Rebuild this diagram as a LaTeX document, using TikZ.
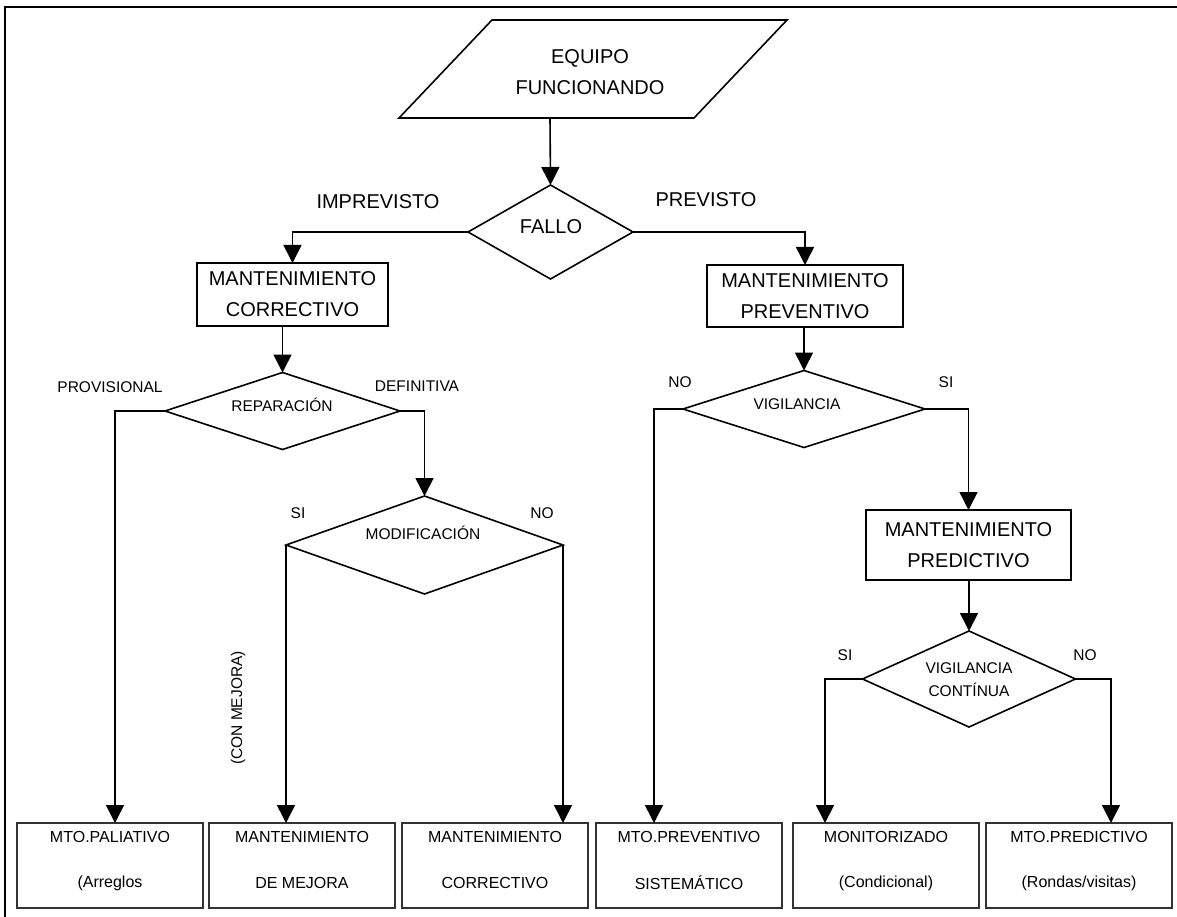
\documentclass[tikz,border=0pt]{standalone}
\usepackage{fontspec}
\setmainfont{Liberation Sans}
\usetikzlibrary{arrows.meta,shapes.geometric}

\begin{document}
\begin{tikzpicture}[x=1pt,y=-1pt,
  conn/.style={line width=1.6pt},
  arr/.style={line width=1.6pt,-{Triangle[width=18pt,length=18pt]}},
  big/.style={font=\fontsize{20}{31}\selectfont, align=center, inner sep=0},
  mid/.style={font=\fontsize{15.5}{23}\selectfont, align=center, inner sep=0},
  dec/.style={diamond, draw, line width=1.6pt, inner sep=0, outer sep=0, aspect=1},
  stepbox/.style={draw, line width=1.6pt, rectangle, inner sep=0, outer sep=0,
    align=center, font=\fontsize{20}{31}\selectfont},
  leaf/.style={draw=black!80, line width=1.8pt, rectangle, inner sep=0, outer sep=0,
    minimum width=186, minimum height=85},
  leaftext/.style={font=\fontsize{16}{18}\selectfont, inner sep=0}
]
\useasboundingbox (0,0) rectangle (1177,917);

% outer frame (top and left edges)
\draw[line width=2.4pt] (5,917) -- (5,7) -- (1177,7);

% start: parallelogram
\draw[conn] (492,20) -- (787,20) -- (694,118) -- (399,118) -- cycle;
\node[big] (equipo) at (590,72.5) {EQUIPO\\FUNCIONANDO};
\coordinate (eqbot) at (550,118);

% decisions and process boxes
\node[dec, minimum width=165, minimum height=94] (fallo) at (550.5,232) {};
\node[big] (falloT) at (551,227) {FALLO};

\node[stepbox, minimum width=191, minimum height=63] (corr) at (292.5,294.5) {MANTENIMIENTO\\CORRECTIVO};
\node[stepbox, minimum width=196, minimum height=62] (prev) at (805,296) {MANTENIMIENTO\\PREVENTIVO};

\node[dec, minimum width=235, minimum height=77] (rep) at (282.5,411) {};
\node[mid] (repT) at (282,405) {REPARACIÓN};

\node[dec, minimum width=277, minimum height=98] (modif) at (424.5,545) {};
\node[mid] (modifT) at (423,533) {MODIFICACIÓN};

\node[dec, minimum width=242, minimum height=77] (vig) at (804,409) {};
\node[mid] (vigT) at (797,404) {VIGILANCIA};

\node[stepbox, minimum width=205, minimum height=70] (pred) at (968.5,545) {MANTENIMIENTO\\PREDICTIVO};

\node[dec, minimum width=213, minimum height=96] (vc) at (969,679) {};
\node[mid] (vcT) at (969,679.5) {VIGILANCIA\\CONTÍNUA};

% branch labels
\node[big] (lImp) at (378,202) {IMPREVISTO};
\node[big] (lPrev) at (706,200) {PREVISTO};
\node[mid] (lProv) at (110,387) {PROVISIONAL};
\node[mid] (lDef) at (417,386) {DEFINITIVA};
\node[mid] (lSi1) at (298,513) {SI};
\node[mid] (lNo1) at (542,513) {NO};
\node[mid, rotate=90] (lMej) at (238,708) {(CON MEJORA)};
\node[mid] (lNo2) at (680,382) {NO};
\node[mid] (lSi2) at (946,382) {SI};
\node[mid] (lSi3) at (845,655) {SI};
\node[mid] (lNo3) at (1085,655) {NO};

% outcomes
\node[leaf] (o1) at (110,865.5) {};
\node[leaf] (o2) at (302,865.5) {};
\node[leaf] (o3) at (495,865.5) {};
\node[leaf] (o4) at (689,865.5) {};
\node[leaf] (o5) at (886,865.5) {};
\node[leaf] (o6) at (1079,865.5) {};
\foreach \n/\a/\b in {o1/MTO.PALIATIVO/(Arreglos,
                      o2/MANTENIMIENTO/DE MEJORA,
                      o3/MANTENIMIENTO/CORRECTIVO,
                      o4/MTO.PREVENTIVO/SISTEMÁTICO,
                      o5/MONITORIZADO/(Condicional),
                      o6/MTO.PREDICTIVO/(Rondas\slash visitas)}{
  \node[leaftext] at ([yshift=-837]\n.center |- 0,0) {\a};
  \node[leaftext] at ([yshift=-883]\n.center |- 0,0) {\b};
}

% drop columns
\coordinate (c1) at (115,0);
\coordinate (c4) at (654,0);
\coordinate (c5) at (825,0);
\coordinate (c6) at (1111,0);

% connectors
\draw[arr] (eqbot) -- (fallo.north);
\draw[arr] (fallo.west) -| (corr.north);
\draw[arr] (fallo.east) -| (prev.north);
\draw[arr] (rep.north |- corr.south) -- (rep.north);
\draw[arr] (vig.north |- prev.south) -- (vig.north);
\draw[arr] (rep.west) -| (c1 |- o1.north);
\draw[arr] (rep.east) -| (modif.north);
\draw[arr] (modif.west) -- (modif.west |- o2.north);
\draw[arr] (modif.east) -- (modif.east |- o3.north);
\draw[arr] (vig.west) -| (c4 |- o4.north);
\draw[arr] (vig.east) -| (pred.north);
\draw[arr] (vc.north |- pred.south) -- (vc.north);
\draw[arr] (vc.west) -| (c5 |- o5.north);
\draw[arr] (vc.east) -| (c6 |- o6.north);
\end{tikzpicture}
\end{document}
